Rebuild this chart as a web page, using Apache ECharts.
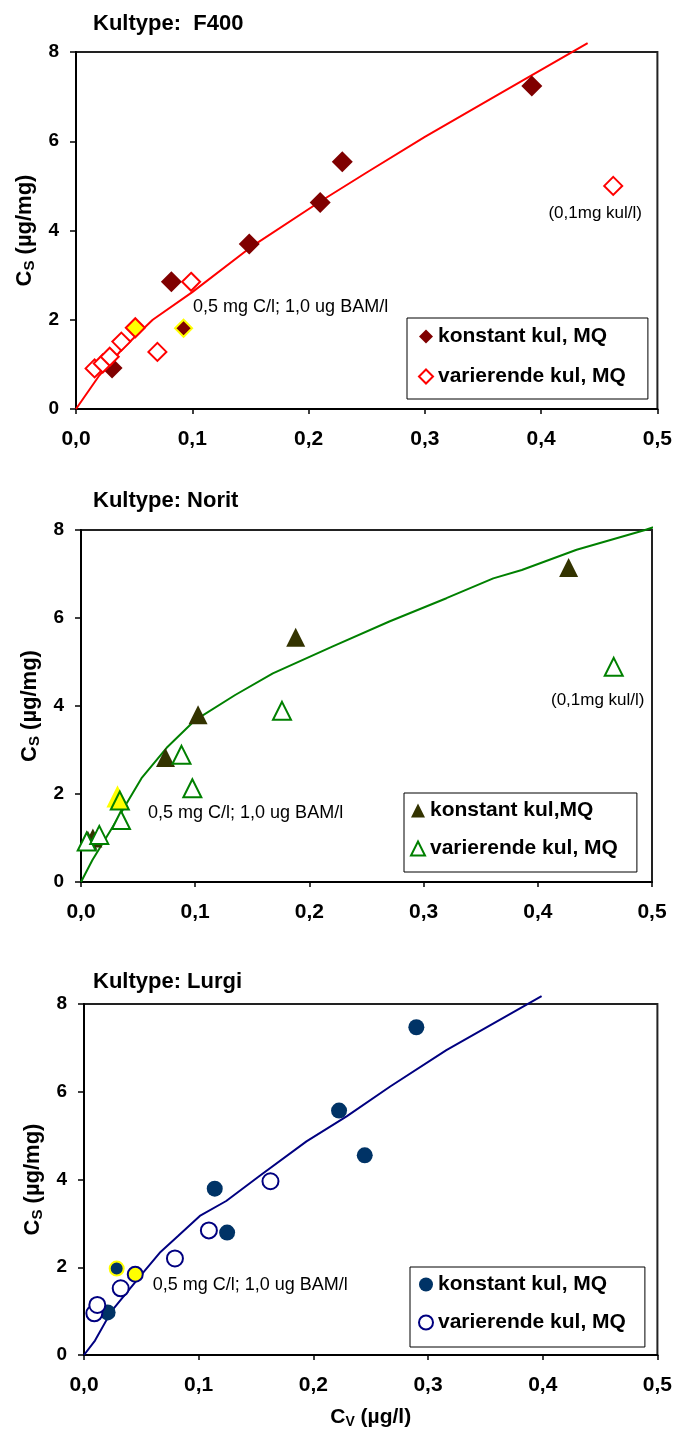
<!DOCTYPE html>
<html lang="da">
  <head>
    <meta charset="UTF-8" />
    <title>Kultype isotermer</title>
    <script src="https://cdn.jsdelivr.net/npm/echarts@6/dist/echarts.min.js"></script>
    <style>
      body { margin: 0; background: #fff; }
      .panel { width: 675px; height: 478px; }
    </style>
  </head>
  <body>
    <div id="f400" class="panel"></div>
    <div id="norit" class="panel"></div>
    <div id="lurgi" class="panel"></div>
    <script type="text/javascript">
      // values: [Cv (ug/l), Cs (ug/mg)]
      const xTicks = [0, 0.1, 0.2, 0.3, 0.4, 0.5];
      const yTicks = [0, 2, 4, 6, 8];

      // F400
      const f400Konstant = [[0.031, 0.92], [0.082, 2.85], [0.149, 3.7], [0.21, 4.63], [0.229, 5.54], [0.392, 7.24]];
      const f400KonstantMarked = [[0.0925, 1.81]];
      const f400Varierende = [[0.016, 0.91], [0.023, 1.02], [0.029, 1.17], [0.039, 1.51], [0.07, 1.28], [0.099, 2.85], [0.462, 5.0]];
      const f400VarierendeMarked = [[0.051, 1.82]];
      const f400FitX = [0, 0.02, 0.04, 0.066, 0.1, 0.15, 0.21, 0.25, 0.3, 0.36, 0.4, 0.44];
      const f400FitY = [0, 0.75, 1.35, 2.0, 2.62, 3.62, 4.65, 5.3, 6.1, 7.0, 7.6, 8.2];

      // Norit
      const noritKonstant = [[0.006, 0.95], [0.0104, 1.0], [0.074, 2.83], [0.1025, 3.8], [0.188, 5.56], [0.427, 7.15]];
      const noritKonstantMarked = [[0.032, 1.93]];
      const noritVarierende = [[0.005, 0.92], [0.016, 1.07], [0.035, 1.41], [0.088, 2.89], [0.0975, 2.13], [0.176, 3.89], [0.4665, 4.89]];
      const noritVarierendeMarked = [[0.034, 1.85]];
      const noritFitX = [0, 0.01, 0.028, 0.04, 0.053, 0.075, 0.1, 0.135, 0.168, 0.22, 0.27, 0.32, 0.361, 0.386, 0.434, 0.494, 0.51];
      const noritFitY = [0, 0.5, 1.26, 1.79, 2.36, 3.05, 3.68, 4.25, 4.74, 5.35, 5.92, 6.45, 6.9, 7.09, 7.55, 8.0, 8.14];

      // Lurgi
      const lurgiKonstant = [[0.0206, 0.97], [0.114, 3.79], [0.1248, 2.79], [0.2224, 5.57], [0.2448, 4.55], [0.2898, 7.47]];
      const lurgiKonstantMarked = [[0.0285, 1.97]];
      const lurgiVarierende = [[0.009, 0.95], [0.0116, 1.14], [0.032, 1.52], [0.0793, 2.2], [0.1089, 2.84], [0.1626, 3.96]];
      const lurgiVarierendeMarked = [[0.0447, 1.84]];
      const lurgiFitX = [0, 0.0096, 0.024, 0.049, 0.066, 0.082, 0.101, 0.124, 0.153, 0.194, 0.229, 0.267, 0.316, 0.399];
      const lurgiFitY = [0, 0.33, 1.0, 1.8, 2.33, 2.71, 3.17, 3.51, 4.08, 4.87, 5.44, 6.12, 6.95, 8.18];

      const FONT = "'Liberation Sans', Arial, sans-serif";
      const noteText = "0,5 mg C/l; 1,0 ug BAM/l";
      const outlierText = "(0,1mg kul/l)";

      function panelOption(p) {
        const fit = p.fitX.map((x, i) => [x, p.fitY[i]]);
        const varData = p.varierende.map((d, i) =>
          i === p.noteAt
            ? { value: d, label: { show: true, position: "bottom", offset: p.noteOffset, formatter: outlierText, fontFamily: FONT, fontSize: 17, color: "#000" } }
            : d
        );
        return {
          animation: false,
          title: {
            text: p.title, left: 93, top: p.titleTop, padding: 0,
            textStyle: { fontFamily: FONT, fontSize: 22, fontWeight: "bold", color: "#000" },
          },
          grid: Object.assign({ show: true, borderColor: "#222", borderWidth: 2 }, p.grid),
          legend: {
            orient: "vertical", left: p.legend.left, top: p.legend.top,
            padding: p.legend.padding, itemGap: p.legend.gap, itemTextGap: p.legend.textGap,
            itemWidth: 14, itemHeight: 14, selectedMode: false,
            borderColor: "#000", borderWidth: 1, backgroundColor: "#fff", borderRadius: 0,
            data: p.names,
            textStyle: { fontFamily: FONT, fontSize: 21, fontWeight: "bold", color: "#000" },
          },
          xAxis: {
            type: "value", min: xTicks[0], max: xTicks[xTicks.length - 1], interval: 0.1,
            splitLine: { show: false },
            axisLine: { show: true, onZero: false, lineStyle: { color: "#000", width: 2 } },
            axisTick: { show: true, length: 5, lineStyle: { color: "#000", width: 1.5 } },
            axisLabel: {
              margin: 20, fontFamily: FONT, fontSize: 21, fontWeight: "bold", color: "#000",
              formatter: (v) => v.toFixed(1).replace(".", ","),
            },
            name: p.xName ? "{m|C}{s|V}{m| (µg/l)}" : "",
            nameLocation: "middle", nameGap: 50,
            nameTextStyle: {
              rich: {
                m: { fontFamily: FONT, fontSize: 21, fontWeight: "bold", color: "#000", lineHeight: 24 },
                s: { fontFamily: FONT, fontSize: 14, fontWeight: "bold", color: "#000", lineHeight: 24, verticalAlign: "bottom" },
              },
            },
          },
          yAxis: {
            type: "value", min: yTicks[0], max: yTicks[yTicks.length - 1], interval: 2,
            splitLine: { show: false },
            axisLine: { show: true, lineStyle: { color: "#000", width: 2 } },
            axisTick: { show: true, length: 6, lineStyle: { color: "#000", width: 1.5 } },
            axisLabel: { margin: 17, fontFamily: FONT, fontSize: 19, fontWeight: "bold", color: "#000" },
            name: "{m|C}{s|S}{m| (µg/mg)}",
            nameLocation: "middle", nameGap: 39,
            nameTextStyle: {
              rich: {
                m: { fontFamily: FONT, fontSize: 22, fontWeight: "bold", color: "#000", lineHeight: 24 },
                s: { fontFamily: FONT, fontSize: 15, fontWeight: "bold", color: "#000", lineHeight: 24, verticalAlign: "bottom" },
              },
            },
          },
          series: [
            {
              type: "line", data: fit, symbol: "none", clip: false, silent: true, z: 1,
              lineStyle: { color: p.lineColor, width: 2 },
            },
            {
              name: p.names[0], type: "scatter", data: p.konstant, symbol: p.symbol, symbolSize: p.sizes[0], z: 3,
              itemStyle: { color: p.fill, opacity: 1 },
            },
            {
              name: p.names[1], type: "scatter", data: varData, symbol: p.symbol, symbolSize: p.sizes[1], z: 3,
              itemStyle: { color: "#fff", borderColor: p.stroke, borderWidth: 2, opacity: 1 },
            },
            {
              type: "scatter", data: p.konstantMarked, symbol: p.symbol, symbolSize: p.sizes[2], z: 4,
              itemStyle: { color: p.markedFill, borderColor: "#ffff00", borderWidth: 2, opacity: 1 },
              label: {
                show: true, position: "right", offset: p.labelOffset, formatter: noteText,
                fontFamily: FONT, fontSize: 18, color: "#000",
              },
            },
            {
              type: "scatter", data: p.varierendeMarked, symbol: p.symbol, symbolSize: p.sizes[3], z: 5,
              itemStyle: { color: "#ffff00", borderColor: p.stroke, borderWidth: 2, opacity: 1 },
            },
          ],
        };
      }

      const panels = [
        {
          el: "f400", title: "Kultype:  F400", titleTop: 13,
          grid: { left: 76, top: 52, right: 15, bottom: 69 },
          legend: { left: 407, top: 318, padding: [8, 22, 12, 11], gap: 19, textGap: 6 },
          names: ["konstant kul, MQ", "varierende kul, MQ"],
          konstant: f400Konstant, konstantMarked: f400KonstantMarked,
          varierende: f400Varierende, varierendeMarked: f400VarierendeMarked,
          fitX: f400FitX, fitY: f400FitY,
          symbol: "diamond", sizes: [21, 18, 17, 19],
          fill: "#800000", markedFill: "#800000", stroke: "#ff0000", lineColor: "#ff0000",
          noteAt: 6, noteOffset: [-18, 4], labelOffset: [-5, -21],
        },
        {
          el: "norit", title: "Kultype: Norit", titleTop: 12,
          grid: { left: 81, top: 52, right: 23, bottom: 74 },
          legend: { left: 404, top: 315, padding: [7, 19, 13, 6], gap: 17, textGap: 9 },
          names: ["konstant kul,MQ", "varierende kul, MQ"],
          konstant: noritKonstant, konstantMarked: noritKonstantMarked,
          varierende: noritVarierende, varierendeMarked: noritVarierendeMarked,
          fitX: noritFitX, fitY: noritFitY,
          symbol: "triangle", sizes: [19, 18, 19, 18],
          fill: "#333300", markedFill: "#ffff00", stroke: "#008000", lineColor: "#008000",
          noteAt: 6, noteOffset: [-16, 10], labelOffset: [15, 16],
        },
        {
          el: "lurgi", title: "Kultype: Lurgi", titleTop: 15, xName: true,
          grid: { left: 84, top: 48, right: 17, bottom: 78 },
          legend: { left: 410, top: 311, padding: [7, 19, 14, 8], gap: 17, textGap: 10 },
          names: ["konstant kul, MQ", "varierende kul, MQ"],
          konstant: lurgiKonstant, konstantMarked: lurgiKonstantMarked,
          varierende: lurgiVarierende, varierendeMarked: lurgiVarierendeMarked,
          fitX: lurgiFitX, fitY: lurgiFitY,
          symbol: "circle", sizes: [16, 16, 14, 15],
          fill: "#003366", markedFill: "#003366", stroke: "#000080", lineColor: "#000080",
          noteAt: -1, noteOffset: [0, 0], labelOffset: [23, 16],
        },
      ];

      panels.forEach((p) => {
        const chart = echarts.init(document.getElementById(p.el));
        chart.setOption(panelOption(p));
      });
    </script>
  </body>
</html>
